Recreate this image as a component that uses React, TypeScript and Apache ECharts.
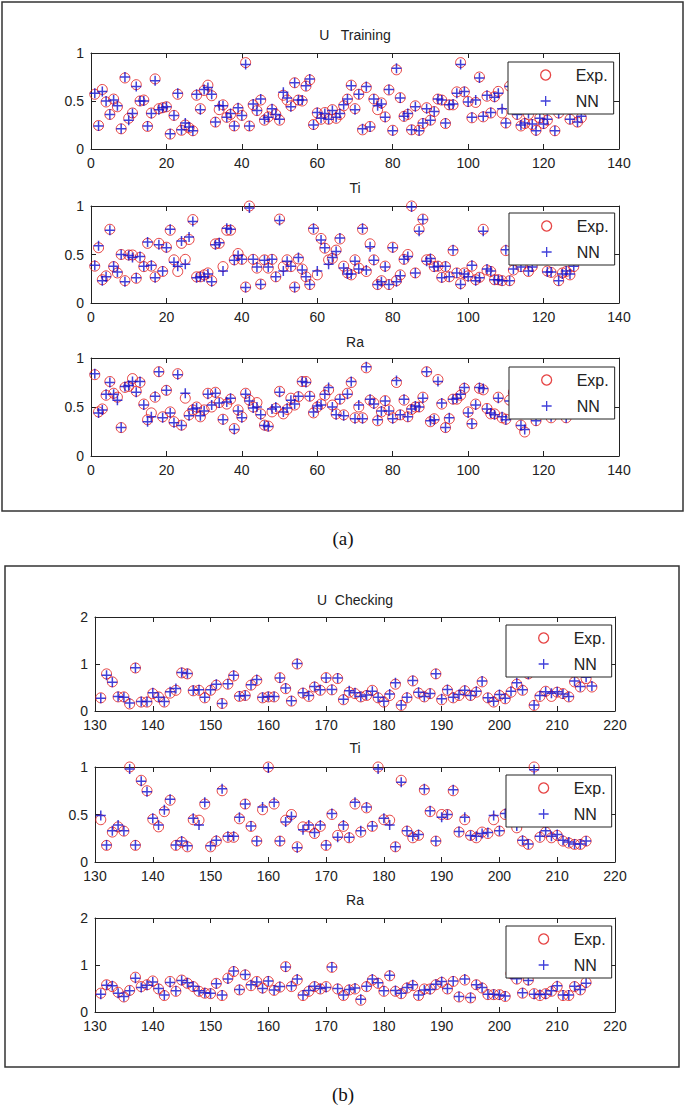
import React, { useEffect, useRef } from 'react';
import * as echarts from 'echarts';

// ---------- data ----------
const trainXTicks = [0, 20, 40, 60, 80, 100, 120, 140];
const checkXTicks = [130, 140, 150, 160, 170, 180, 190, 200, 210, 220];

const uTrainExp = [
  0.57, 0.245, 0.62, 0.49, 0.36, 0.52, 0.44, 0.21, 0.74, 0.32,
  0.375, 0.67, 0.50, 0.51, 0.235, 0.375, 0.73, 0.42, 0.43, 0.44,
  0.155, 0.35, 0.57, 0.195, 0.25, 0.22, 0.19, 0.56, 0.42, 0.61,
  0.665, 0.555, 0.28, 0.41, 0.46, 0.33, 0.36, 0.24, 0.42, 0.35,
  0.90, 0.24, 0.46, 0.40, 0.51, 0.30, 0.335, 0.41, 0.36, 0.30,
  0.56, 0.51, 0.45, 0.69, 0.51, 0.50, 0.655, 0.72, 0.255, 0.375,
  0.31, 0.38, 0.31, 0.41, 0.32, 0.36, 0.45, 0.52, 0.665, 0.42,
  0.57, 0.20, 0.64, 0.235, 0.52, 0.41, 0.48, 0.335, 0.615, 0.195,
  0.825, 0.535, 0.34, 0.36, 0.20, 0.45, 0.195, 0.265, 0.43, 0.30,
  0.39, 0.52, 0.51, 0.265, 0.46, 0.46, 0.595, 0.90, 0.595, 0.495,
  0.325, 0.485, 0.75, 0.335, 0.55, 0.375, 0.545, 0.60, 0.375, 0.27,
  0.655, 0.48, 0.36, 0.24, 0.265, 0.36, 0.255, 0.195, 0.325, 0.265,
  0.30, 0.55, 0.19, 0.375, 0.62, 0.45, 0.31, 0.70, 0.28, 0.325,
];
const uTrainNN = [
  0.58, 0.24, 0.60, 0.50, 0.36, 0.51, 0.45, 0.21, 0.75, 0.30,
  0.37, 0.65, 0.50, 0.50, 0.24, 0.37, 0.71, 0.41, 0.43, 0.44,
  0.16, 0.35, 0.58, 0.20, 0.27, 0.23, 0.19, 0.57, 0.41, 0.62,
  0.64, 0.57, 0.28, 0.45, 0.45, 0.33, 0.37, 0.24, 0.43, 0.35,
  0.88, 0.24, 0.47, 0.40, 0.52, 0.31, 0.33, 0.42, 0.36, 0.31,
  0.59, 0.53, 0.44, 0.69, 0.51, 0.51, 0.66, 0.73, 0.25, 0.38,
  0.32, 0.37, 0.31, 0.40, 0.33, 0.37, 0.46, 0.52, 0.66, 0.41,
  0.57, 0.21, 0.65, 0.23, 0.52, 0.45, 0.47, 0.33, 0.62, 0.19,
  0.84, 0.53, 0.34, 0.37, 0.20, 0.44, 0.19, 0.27, 0.42, 0.30,
  0.39, 0.52, 0.51, 0.27, 0.46, 0.47, 0.58, 0.88, 0.60, 0.49,
  0.33, 0.51, 0.74, 0.34, 0.56, 0.38, 0.54, 0.58, 0.42, 0.27,
  0.65, 0.49, 0.36, 0.25, 0.27, 0.37, 0.26, 0.19, 0.32, 0.26,
  0.31, 0.55, 0.19, 0.37, 0.61, 0.46, 0.31, 0.69, 0.28, 0.34,
];

const tiTrainExp = [
  0.38, 0.57, 0.24, 0.28, 0.76, 0.375, 0.31, 0.50, 0.23, 0.495,
  0.495, 0.255, 0.47, 0.375, 0.615, 0.38, 0.27, 0.615, 0.325, 0.575,
  0.75, 0.445, 0.325, 0.615, 0.45, 0.655, 0.86, 0.27, 0.27, 0.29,
  0.31, 0.23, 0.61, 0.615, 0.375, 0.75, 0.75, 0.445, 0.51, 0.45,
  0.165, 1.0, 0.45, 0.36, 0.195, 0.445, 0.36, 0.45, 0.27, 0.865,
  0.375, 0.445, 0.375, 0.165, 0.455, 0.35, 0.27, 0.19, 0.76, 0.29,
  0.665, 0.565, 0.445, 0.46, 0.545, 0.66, 0.38, 0.31, 0.29, 0.445,
  0.36, 0.76, 0.325, 0.61, 0.445, 0.19, 0.23, 0.38, 0.19, 0.575,
  0.23, 0.29, 0.45, 0.50, 1.0, 0.31, 0.76, 0.865, 0.445, 0.45,
  0.375, 0.38, 0.265, 0.375, 0.27, 0.54, 0.31, 0.20, 0.31, 0.28,
  0.38, 0.24, 0.265, 0.76, 0.34, 0.325, 0.24, 0.24, 0.23, 0.54,
  0.23, 0.34, 0.55, 0.375, 0.62, 0.325, 0.375, 0.48, 0.70, 0.52,
  0.33, 0.315, 0.45, 0.23, 0.31, 0.325, 0.29, 0.375,
];
const tiTrainNN = [
  0.39, 0.59, 0.23, 0.27, 0.75, 0.38, 0.32, 0.50, 0.22, 0.49,
  0.47, 0.26, 0.48, 0.38, 0.63, 0.39, 0.26, 0.60, 0.33, 0.57,
  0.76, 0.42, 0.38, 0.64, 0.40, 0.68, 0.84, 0.26, 0.27, 0.27,
  0.30, 0.22, 0.60, 0.62, 0.33, 0.77, 0.76, 0.44, 0.49, 0.45,
  0.16, 0.98, 0.45, 0.37, 0.19, 0.44, 0.37, 0.45, 0.27, 0.85,
  0.33, 0.43, 0.38, 0.16, 0.47, 0.34, 0.27, 0.19, 0.77, 0.33,
  0.65, 0.57, 0.40, 0.47, 0.53, 0.67, 0.36, 0.30, 0.30, 0.43,
  0.35, 0.77, 0.34, 0.58, 0.44, 0.19, 0.22, 0.37, 0.19, 0.57,
  0.22, 0.28, 0.45, 0.48, 0.99, 0.31, 0.74, 0.86, 0.43, 0.46,
  0.37, 0.38, 0.26, 0.38, 0.27, 0.55, 0.31, 0.19, 0.30, 0.27,
  0.39, 0.23, 0.26, 0.74, 0.35, 0.33, 0.24, 0.24, 0.23, 0.55,
  0.23, 0.35, 0.54, 0.37, 0.61, 0.33, 0.37, 0.49, 0.69, 0.51,
  0.32, 0.32, 0.44, 0.23, 0.30, 0.33, 0.30, 0.38,
];

const raTrainExp = [
  0.83, 0.45, 0.48, 0.62, 0.76, 0.64, 0.60, 0.29, 0.70, 0.71,
  0.79, 0.66, 0.75, 0.53, 0.37, 0.44, 0.60, 0.86, 0.40, 0.67,
  0.45, 0.35, 0.84, 0.315, 0.59, 0.42, 0.47, 0.50, 0.40, 0.47,
  0.64, 0.50, 0.65, 0.545, 0.375, 0.53, 0.58, 0.28, 0.47, 0.40,
  0.64, 0.57, 0.50, 0.545, 0.43, 0.315, 0.305, 0.45, 0.485, 0.66,
  0.43, 0.475, 0.59, 0.52, 0.605, 0.76, 0.76, 0.61, 0.44, 0.50,
  0.53, 0.62, 0.675, 0.52, 0.43, 0.58, 0.42, 0.64, 0.75, 0.39,
  0.50, 0.39, 0.90, 0.57, 0.54, 0.36, 0.45, 0.565, 0.47, 0.39,
  0.75, 0.42, 0.57, 0.40, 0.475, 0.50, 0.50, 0.60, 0.86, 0.35,
  0.38, 0.78, 0.53, 0.29, 0.38, 0.58, 0.58, 0.62, 0.69, 0.45,
  0.33, 0.53, 0.69, 0.675, 0.485, 0.43, 0.43, 0.60, 0.39, 0.375,
  0.57, 0.65, 0.48, 0.315, 0.245, 0.55, 0.72, 0.36, 0.46, 0.60,
  0.52, 0.39, 0.68, 0.45, 0.58, 0.39,
];
const raTrainNN = [
  0.84, 0.44, 0.47, 0.63, 0.75, 0.63, 0.57, 0.29, 0.71, 0.72,
  0.76, 0.65, 0.76, 0.52, 0.35, 0.40, 0.61, 0.86, 0.39, 0.67,
  0.44, 0.34, 0.83, 0.31, 0.64, 0.41, 0.48, 0.49, 0.41, 0.46,
  0.63, 0.52, 0.64, 0.54, 0.37, 0.55, 0.59, 0.27, 0.46, 0.39,
  0.63, 0.56, 0.49, 0.50, 0.42, 0.31, 0.30, 0.48, 0.50, 0.65,
  0.45, 0.49, 0.57, 0.53, 0.61, 0.76, 0.75, 0.61, 0.45, 0.51,
  0.52, 0.63, 0.70, 0.50, 0.42, 0.58, 0.41, 0.63, 0.76, 0.38,
  0.52, 0.38, 0.91, 0.58, 0.53, 0.37, 0.46, 0.56, 0.46, 0.38,
  0.77, 0.42, 0.58, 0.40, 0.48, 0.51, 0.50, 0.59, 0.86, 0.36,
  0.37, 0.76, 0.54, 0.29, 0.39, 0.58, 0.59, 0.63, 0.70, 0.44,
  0.33, 0.52, 0.70, 0.69, 0.48, 0.44, 0.42, 0.59, 0.40, 0.37,
  0.56, 0.64, 0.49, 0.31, 0.27, 0.54, 0.71, 0.36, 0.47, 0.59,
  0.51, 0.40, 0.67, 0.46, 0.57, 0.39,
];

const uCheckExp = [
  0.28, 0.79, 0.62, 0.30, 0.30, 0.15, 0.915, 0.19, 0.19, 0.37,
  0.30, 0.19, 0.38, 0.44, 0.81, 0.79, 0.43, 0.44, 0.28, 0.44,
  0.55, 0.16, 0.57, 0.745, 0.31, 0.33, 0.55, 0.65, 0.28, 0.30,
  0.30, 0.71, 0.475, 0.21, 1.0, 0.38, 0.31, 0.51, 0.44, 0.71,
  0.45, 0.69, 0.24, 0.40, 0.37, 0.30, 0.33, 0.44, 0.28, 0.19,
  0.33, 0.57, 0.12, 0.28, 0.64, 0.38, 0.30, 0.37, 0.79, 0.24,
  0.44, 0.28, 0.33, 0.43, 0.33, 0.40, 0.62, 0.28, 0.19, 0.33,
  0.26, 0.40, 0.57, 0.44, 0.79, 0.12, 0.31, 0.42, 0.31, 0.40,
  0.37, 0.30, 0.62, 0.51, 0.69, 0.51,
];
const uCheckNN = [
  0.27, 0.76, 0.61, 0.31, 0.29, 0.17, 0.92, 0.20, 0.20, 0.39,
  0.29, 0.20, 0.41, 0.48, 0.82, 0.80, 0.44, 0.45, 0.29, 0.45,
  0.57, 0.16, 0.58, 0.76, 0.32, 0.33, 0.56, 0.67, 0.29, 0.31,
  0.31, 0.70, 0.49, 0.22, 1.01, 0.39, 0.33, 0.52, 0.45, 0.70,
  0.46, 0.70, 0.25, 0.43, 0.39, 0.31, 0.34, 0.42, 0.29, 0.21,
  0.36, 0.60, 0.13, 0.29, 0.65, 0.40, 0.31, 0.37, 0.79, 0.26,
  0.46, 0.29, 0.35, 0.44, 0.33, 0.42, 0.64, 0.28, 0.21, 0.35,
  0.27, 0.42, 0.60, 0.45, 0.78, 0.13, 0.33, 0.41, 0.38, 0.41,
  0.36, 0.31, 0.64, 0.52, 0.72, 0.53,
];

const tiCheckExp = [
  0.445, 0.175, 0.315, 0.37, 0.325, 1.0, 0.175, 0.86, 0.75, 0.45,
  0.37, 0.53, 0.65, 0.175, 0.21, 0.16, 0.445, 0.44, 0.61, 0.16,
  0.22, 0.75, 0.26, 0.26, 0.455, 0.61, 0.375, 0.22, 0.55, 1.0,
  0.61, 0.22, 0.44, 0.50, 0.16, 0.37, 0.37, 0.30, 0.375, 0.175,
  0.50, 0.28, 0.375, 0.255, 0.61, 0.315, 0.57, 0.375, 1.0, 0.445,
  0.44, 0.16, 0.86, 0.325, 0.255, 0.28, 0.76, 0.53, 0.22, 0.50,
  0.50, 0.75, 0.315, 0.445, 0.28, 0.255, 0.315, 0.30, 0.445, 0.325,
  0.50, 0.55, 0.36, 0.22, 0.185, 1.0, 0.26, 0.315, 0.255, 0.28,
  0.22, 0.20, 0.185, 0.185, 0.22,
];
const tiCheckNN = [
  0.49, 0.18, 0.33, 0.39, 0.33, 0.98, 0.18, 0.85, 0.74, 0.46,
  0.39, 0.55, 0.66, 0.18, 0.22, 0.17, 0.46, 0.39, 0.63, 0.17,
  0.23, 0.77, 0.27, 0.27, 0.47, 0.61, 0.38, 0.22, 0.58, 0.99,
  0.63, 0.22, 0.42, 0.48, 0.15, 0.34, 0.39, 0.31, 0.39, 0.18,
  0.51, 0.26, 0.39, 0.26, 0.63, 0.33, 0.58, 0.38, 0.98, 0.46,
  0.39, 0.16, 0.84, 0.33, 0.27, 0.29, 0.77, 0.54, 0.22, 0.47,
  0.50, 0.76, 0.32, 0.47, 0.28, 0.27, 0.30, 0.31, 0.49, 0.33,
  0.51, 0.56, 0.38, 0.23, 0.19, 0.97, 0.27, 0.33, 0.27, 0.29,
  0.23, 0.21, 0.19, 0.19, 0.22,
];

const raCheckExp = [
  0.40, 0.58, 0.54, 0.42, 0.32, 0.46, 0.74, 0.54, 0.58, 0.66,
  0.49, 0.35, 0.65, 0.44, 0.68, 0.61, 0.54, 0.44, 0.40, 0.39,
  0.61, 0.35, 0.72, 0.86, 0.47, 0.79, 0.56, 0.65, 0.51, 0.65,
  0.46, 0.53, 0.965, 0.54, 0.68, 0.35, 0.44, 0.54, 0.49, 0.54,
  0.95, 0.49, 0.35, 0.47, 0.49, 0.25, 0.54, 0.68, 0.61, 0.44,
  0.77, 0.44, 0.39, 0.51, 0.56, 0.35, 0.49, 0.49, 0.58, 0.63,
  0.49, 0.65, 0.32, 0.68, 0.30, 0.58, 0.51, 0.37, 0.37, 0.37,
  0.33, 0.82, 0.70, 0.40, 0.68, 0.39, 0.35, 0.39, 0.44, 0.54,
  0.35, 0.35, 0.54, 0.47, 0.63,
];
const raCheckNN = [
  0.38, 0.57, 0.56, 0.40, 0.33, 0.45, 0.72, 0.52, 0.57, 0.64,
  0.50, 0.36, 0.63, 0.45, 0.67, 0.62, 0.55, 0.45, 0.41, 0.40,
  0.60, 0.36, 0.70, 0.87, 0.48, 0.80, 0.58, 0.64, 0.50, 0.66,
  0.47, 0.54, 0.96, 0.56, 0.70, 0.36, 0.46, 0.55, 0.50, 0.52,
  0.96, 0.50, 0.36, 0.48, 0.51, 0.27, 0.55, 0.70, 0.62, 0.45,
  0.78, 0.46, 0.40, 0.52, 0.58, 0.36, 0.47, 0.48, 0.59, 0.65,
  0.50, 0.66, 0.33, 0.70, 0.31, 0.58, 0.52, 0.38, 0.38, 0.36,
  0.34, 0.80, 0.71, 0.41, 0.67, 0.38, 0.37, 0.38, 0.45, 0.56,
  0.36, 0.36, 0.55, 0.48, 0.61,
];

const legendNames = ['Exp.', 'NN'];
const captions = ['(a)', '(b)'];

// ---------- layout ----------
const FONT = '"Liberation Sans", Arial, Helvetica, sans-serif';
const INK = '#222';
const PLUS = 'path://M5 0L5 10M0 5L10 5';

type Panel = {
  title: string; exp: number[]; nn: number[]; firstX: number; xTicks: number[];
  yMax: number; yInt: number;
  grid: { left: number; top: number; width: number; height: number };
  legend: { left: number; top: number }; titleY: number;
};

const panels: Panel[] = [
  { title: 'U   Training', exp: uTrainExp, nn: uTrainNN, firstX: 1, xTicks: trainXTicks, yMax: 1, yInt: 0.5,
    grid: { left: 91, top: 53, width: 528, height: 96 }, legend: { left: 508, top: 62 }, titleY: 35 },
  { title: 'Ti', exp: tiTrainExp, nn: tiTrainNN, firstX: 1, xTicks: trainXTicks, yMax: 1, yInt: 0.5,
    grid: { left: 91, top: 206, width: 528, height: 97 }, legend: { left: 509, top: 213 }, titleY: 188 },
  { title: 'Ra', exp: raTrainExp, nn: raTrainNN, firstX: 1, xTicks: trainXTicks, yMax: 1, yInt: 0.5,
    grid: { left: 91, top: 358, width: 528, height: 98 }, legend: { left: 509, top: 367 }, titleY: 342 },
  { title: 'U  Checking', exp: uCheckExp, nn: uCheckNN, firstX: 131, xTicks: checkXTicks, yMax: 2, yInt: 1,
    grid: { left: 95, top: 617, width: 520, height: 94 }, legend: { left: 506, top: 625 }, titleY: 600 },
  { title: 'Ti', exp: tiCheckExp, nn: tiCheckNN, firstX: 131, xTicks: checkXTicks, yMax: 1, yInt: 0.5,
    grid: { left: 95, top: 767, width: 520, height: 95 }, legend: { left: 506, top: 775 }, titleY: 748 },
  { title: 'Ra', exp: raCheckExp, nn: raCheckNN, firstX: 131, xTicks: checkXTicks, yMax: 2, yInt: 1,
    grid: { left: 95, top: 918, width: 520, height: 94 }, legend: { left: 506, top: 926 }, titleY: 900 },
];

function buildOption() {
  const grid: any[] = [];
  const xAxis: any[] = [];
  const yAxis: any[] = [];
  const series: any[] = [];
  const legend: any[] = [];
  const graphic: any[] = [];

  const axisLine = { show: true, onZero: false, lineStyle: { color: INK, width: 1 } };
  const axisTick = { show: true, inside: true, length: 5, lineStyle: { color: INK, width: 1 } };

  panels.forEach((p, i) => {
    grid.push({ ...p.grid, show: false, containLabel: false });
    const xMin = p.xTicks[0];
    const xMax = p.xTicks[p.xTicks.length - 1];
    const xInt = p.xTicks[1] - p.xTicks[0];
    const xBase = { type: 'value', gridIndex: i, min: xMin, max: xMax, interval: xInt, splitLine: { show: false }, axisLine, axisTick };
    xAxis.push({ ...xBase, position: 'bottom', axisLabel: { color: INK, fontSize: 14, fontFamily: FONT, margin: 7 } });
    xAxis.push({ ...xBase, position: 'top', axisLabel: { show: false } });
    const yBase = { type: 'value', gridIndex: i, min: 0, max: p.yMax, interval: p.yInt, splitLine: { show: false }, axisLine, axisTick };
    yAxis.push({ ...yBase, position: 'left', axisLabel: { color: INK, fontSize: 14, fontFamily: FONT, margin: 7 } });
    yAxis.push({ ...yBase, position: 'right', axisLabel: { show: false } });

    series.push({
      type: 'scatter', name: legendNames[0], xAxisIndex: 2 * i, yAxisIndex: 2 * i,
      symbol: 'circle', symbolSize: 10, silent: true,
      itemStyle: { color: 'rgba(0,0,0,0)', borderColor: '#e01515', borderWidth: 1 },
      data: p.exp.map((v, k) => [p.firstX + k, v]),
    });
    series.push({
      type: 'scatter', name: legendNames[1], xAxisIndex: 2 * i, yAxisIndex: 2 * i,
      symbol: PLUS, symbolSize: 10, silent: true,
      itemStyle: { color: 'rgba(0,0,0,0)', borderColor: '#1010d0', borderWidth: 1.5 },
      data: p.nn.map((v, k) => [p.firstX + k, v]),
    });

    legend.push({
      data: legendNames, orient: 'vertical', left: p.legend.left, top: p.legend.top,
      itemWidth: 50, itemHeight: 10, itemGap: 10, padding: [5, 6, 5, 32],
      backgroundColor: '#fff', borderColor: INK, borderWidth: 1, borderRadius: 0,
      selectedMode: false, z: 10,
      itemStyle: { borderWidth: 1.3 },
      textStyle: { color: INK, fontSize: 16, fontFamily: FONT, lineHeight: 15 },
    });

    graphic.push({
      type: 'text', x: p.grid.left + p.grid.width / 2, y: p.titleY, silent: true,
      style: { text: p.title, fill: INK, fontSize: 14, fontFamily: FONT, align: 'center', verticalAlign: 'middle' },
    });
  });

  graphic.push({ type: 'rect', silent: true, z: -10, shape: { x: 2, y: 2, width: 681, height: 509 }, style: { fill: 'none', stroke: '#333', lineWidth: 1.5 } });
  graphic.push({ type: 'rect', silent: true, z: -10, shape: { x: 5, y: 566, width: 674, height: 501 }, style: { fill: 'none', stroke: '#333', lineWidth: 1.5 } });
  graphic.push({ type: 'text', x: 343, y: 538, silent: true, style: { text: captions[0], fill: '#111', fontSize: 19, fontFamily: '"Liberation Serif", "Times New Roman", serif', align: 'center', verticalAlign: 'middle' } });
  graphic.push({ type: 'text', x: 343, y: 1094, silent: true, style: { text: captions[1], fill: '#111', fontSize: 19, fontFamily: '"Liberation Serif", "Times New Roman", serif', align: 'center', verticalAlign: 'middle' } });

  return {
    animation: false,
    backgroundColor: '#fff',
    grid, xAxis, yAxis, series, legend, graphic,
  };
}

export default function App() {
  const ref = useRef<HTMLDivElement | null>(null);
  useEffect(() => {
    if (!ref.current) return;
    const chart = echarts.init(ref.current, undefined, { renderer: 'svg' });
    chart.setOption(buildOption() as any);
    return () => chart.dispose();
  }, []);
  return (
    <div
      ref={ref}
      style={{ position: 'absolute', left: 0, top: 0, width: 685, height: 1108, background: '#fff' }}
    />
  );
}
